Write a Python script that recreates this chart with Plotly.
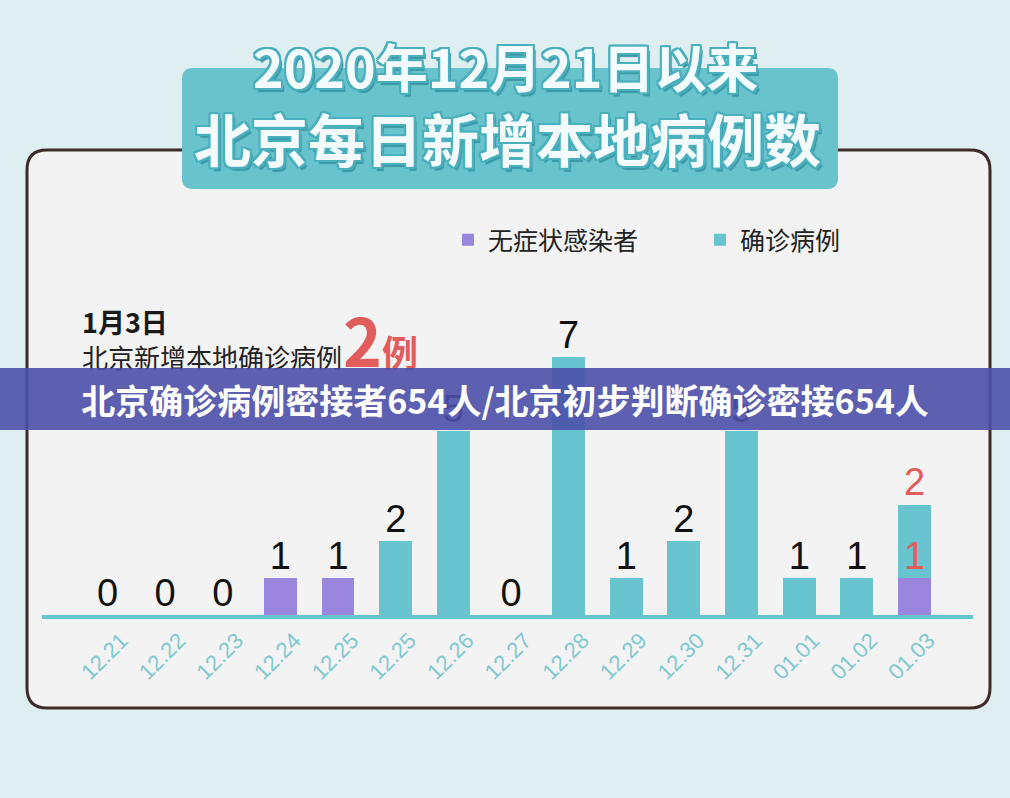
import plotly.graph_objects as go

# ---------------- data ----------------
dates = ["12.21", "12.22", "12.23", "12.24", "12.25", "12.25", "12.26", "12.27",
         "12.28", "12.29", "12.30", "12.31", "01.01", "01.02", "01.03"]
asymptomatic = [0, 0, 0, 1, 1, 0, 0, 0, 0, 0, 0, 0, 0, 0, 1]
confirmed = [0, 0, 0, 0, 0, 2, 5, 0, 7, 1, 2, 5, 1, 1, 2]
series_names = ["无症状感染者", "确诊病例"]
title_line1 = "2020年12月21日以来"
title_line2 = "北京每日新增本地病例数"
note_date = "1月3日"
note_text = "北京新增本地确诊病例"
note_value = "2"
note_unit = "例"
banner_text = "北京确诊病例密接者654人/北京初步判断确诊密接654人"

# ---------------- styles ----------------
W, H = 1010, 798
PL, PR, PT, PB = 42, 973, 290, 615  # plot area in pixels
PURPLE = "#9b86de"
TEAL = "#68c4cf"
TICK = "#80c9d1"
RED = "#e05d5b"
CJK = "Noto Sans CJK SC"
LAT = "Liberation Sans, Arial, sans-serif"


def px_x(px):
    return (px - PL) / (PR - PL)


def px_y(py):
    return (PB - py) / (PB - PT)


xs = list(range(len(dates)))
totals = [a + c for a, c in zip(asymptomatic, confirmed)]

# value labels
lab_x, lab_y, lab_t, lab_c = [], [], [], []
for i in xs:
    if asymptomatic[i] > 0 and confirmed[i] > 0:
        lab_x += [i, i]
        lab_y += [asymptomatic[i], totals[i]]
        lab_t += [str(asymptomatic[i]), str(confirmed[i])]
        lab_c += [RED, RED]
    else:
        lab_x.append(i)
        lab_y.append(totals[i])
        lab_t.append(str(totals[i]))
        lab_c.append("#111111")

fig = go.Figure()
fig.add_trace(go.Bar(x=xs, y=asymptomatic, name=series_names[0],
                     marker=dict(color=PURPLE, line=dict(width=0))))
fig.add_trace(go.Bar(x=xs, y=confirmed, name=series_names[1],
                     marker=dict(color=TEAL, line=dict(width=0))))
fig.add_trace(go.Scatter(x=lab_x, y=lab_y, text=lab_t, mode="text",
                         textposition="top center", showlegend=False,
                         textfont=dict(family=LAT, size=38, color=lab_c),
                         cliponaxis=False, hoverinfo="skip"))

unit = 36.8
fig.update_layout(
    width=W, height=H,
    margin=dict(l=PL, r=W - PR, t=PT, b=H - PB, pad=0),
    paper_bgcolor="#dfeef1",
    plot_bgcolor="rgba(0,0,0,0)",
    barmode="stack",
    bargap=0.43,
    xaxis=dict(range=[-1.136, 15.015], tickmode="array", tickvals=xs,
               ticktext=dates, tickangle=-45,
               tickfont=dict(family=LAT, size=22, color=TICK),
               ticklabelshift=14,
               showline=True, linecolor=TEAL, linewidth=4,
               showgrid=False, zeroline=False, ticks="", fixedrange=True),
    yaxis=dict(range=[0, (PB - PT) / unit], visible=False, showgrid=False,
               zeroline=False),
    showlegend=True,
    legend=dict(orientation="h", x=px_x(448), y=px_y(240), xanchor="left",
                yanchor="middle", bgcolor="rgba(0,0,0,0)",
                font=dict(family=CJK, size=25, color="#222222"),
                entrywidth=207, entrywidthmode="pixels", traceorder="normal"),
)

# background panel + title box
fig.add_shape(type="path", xref="paper", yref="paper", layer="below",
              path=(f"M {px_x(47)},{px_y(150)} L {px_x(970)},{px_y(150)} "
                    f"Q {px_x(990)},{px_y(150)} {px_x(990)},{px_y(170)} "
                    f"L {px_x(990)},{px_y(688)} Q {px_x(990)},{px_y(708)} {px_x(970)},{px_y(708)} "
                    f"L {px_x(47)},{px_y(708)} Q {px_x(27)},{px_y(708)} {px_x(27)},{px_y(688)} "
                    f"L {px_x(27)},{px_y(170)} Q {px_x(27)},{px_y(150)} {px_x(47)},{px_y(150)} Z"),
              fillcolor="#f3f3f3", line=dict(color="#3d2c28", width=3))
fig.add_shape(type="path", xref="paper", yref="paper", layer="below",
              path=(f"M {px_x(193)},{px_y(68)} L {px_x(827)},{px_y(68)} "
                    f"Q {px_x(838)},{px_y(68)} {px_x(838)},{px_y(79)} "
                    f"L {px_x(838)},{px_y(178)} Q {px_x(838)},{px_y(189)} {px_x(827)},{px_y(189)} "
                    f"L {px_x(193)},{px_y(189)} Q {px_x(182)},{px_y(189)} {px_x(182)},{px_y(178)} "
                    f"L {px_x(182)},{px_y(79)} Q {px_x(182)},{px_y(68)} {px_x(193)},{px_y(68)} Z"),
              fillcolor="#69c3cd", line=dict(width=0))

outline = ("2px 0 0 #4bb0bd, -2px 0 0 #4bb0bd, 0 2px 0 #4bb0bd, 0 -2px 0 #4bb0bd, "
           "2px 2px 0 #4bb0bd, -2px -2px 0 #4bb0bd, 2px -2px 0 #4bb0bd, -2px 2px 0 #4bb0bd, "
           "3px 4px 1px #3a98a6")

fig.add_annotation(x=px_x(505), y=px_y(66), xref="paper", yref="paper",
                   text=f"<b>{title_line1}</b>", showarrow=False,
                   xanchor="center", yanchor="middle",
                   font=dict(family=CJK, size=52, color="#f3fbfc", shadow=outline))
fig.add_annotation(x=px_x(507), y=px_y(137), xref="paper", yref="paper",
                   text=f"<b>{title_line2}</b>", showarrow=False,
                   xanchor="center", yanchor="middle",
                   font=dict(family=CJK, size=57, color="#f3fbfc", shadow=outline))

# note
fig.add_annotation(x=px_x(80), y=px_y(321), xref="paper", yref="paper",
                   text=f"<b>{note_date}</b>", showarrow=False,
                   xanchor="left", yanchor="middle",
                   font=dict(family=CJK, size=27, color="#1a1a1a"))
fig.add_annotation(x=px_x(80), y=px_y(356), xref="paper", yref="paper",
                   text=note_text, showarrow=False,
                   xanchor="left", yanchor="middle",
                   font=dict(family=CJK, size=26, color="#222222"))
fig.add_annotation(x=px_x(341), y=px_y(388), xref="paper", yref="paper",
                   text=(f"<b><span style='font-size:66px'>{note_value}</span>"
                         f"<span style='font-size:36px'>{note_unit}</span></b>"),
                   showarrow=False, xanchor="left", yanchor="bottom",
                   font=dict(family=CJK, size=36, color=RED))

# banner
fig.add_annotation(x=px_x(505), y=px_y(399), xref="paper", yref="paper",
                   text=f"<b>{banner_text}</b>", showarrow=False,
                   xanchor="center", yanchor="middle",
                   width=1010, height=62, borderpad=0, borderwidth=0,
                   bgcolor="rgba(76,80,168,0.9)",
                   font=dict(family=CJK, size=34, color="#ffffff"))

fig.write_html("out.html", config={"displayModeBar": False},
               post_script="document.body.style.margin='0';document.body.style.padding='0';")
